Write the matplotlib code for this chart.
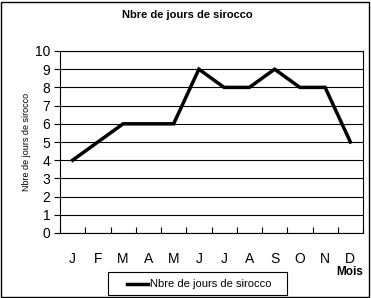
import matplotlib
matplotlib.use("Agg")
import matplotlib.pyplot as plt
from matplotlib.patches import Rectangle

plt.rcParams['font.family'] = ['Liberation Sans', 'DejaVu Sans']

months = ['J', 'F', 'M', 'A', 'M', 'J', 'J', 'A', 'S', 'O', 'N', 'D']
sirocco_days = [4, 5, 6, 6, 6, 9, 8, 8, 9, 8, 8, 5]
series_name = 'Nbre de jours de sirocco'

W, H = 371, 298
fig = plt.figure(figsize=(W / 100, H / 100), dpi=100)

# plot area in pixel coords: x 60..363, y 51..233
ax = fig.add_axes([60 / W, 1 - 233 / H, 303 / W, 182 / H])

x = list(range(len(months)))
ax.plot(x, sirocco_days, color='black', linewidth=2.5, solid_joinstyle='miter',
        label=series_name)

ax.set_xlim(-0.5, len(months) - 0.5)
ax.set_ylim(0, 10)
ax.set_yticks(range(0, 11))
ax.set_xticks(x)
ax.set_xticklabels(months)
ax.set_xticks([i - 0.5 for i in range(len(months) + 1)], minor=True)
ax.tick_params(axis='x', which='major', length=0, pad=14, labelsize=10)
ax.tick_params(axis='x', which='minor', length=4, width=0.8, direction='in')
ax.tick_params(axis='y', length=4, width=0.8, direction='out', pad=3, labelsize=10)
ax.grid(axis='y', color='black', linewidth=0.8)
ax.set_axisbelow(True)
for s in ax.spines.values():
    s.set_linewidth(0.8)

ax.set_ylabel(series_name, fontsize=6.5, labelpad=3)

fig.text(187 / W, 1 - 15 / H, series_name, ha='center', va='center',
         fontsize=8, fontweight='bold')
fig.text(350 / W, 1 - 272 / H, 'Mois', ha='center', va='center',
         fontsize=8.5, fontweight='bold')

# legend box
fig.patches.append(Rectangle((108 / W, 1 - 295 / H), 179 / W, 23 / H,
                             transform=fig.transFigure, fill=False,
                             edgecolor='black', linewidth=0.8))
fig.lines.append(plt.Line2D([127 / W, 148 / W], [1 - 284 / H, 1 - 284 / H],
                            transform=fig.transFigure, color='black', linewidth=2.5))
fig.text(150 / W, 1 - 284 / H, series_name, ha='left', va='center', fontsize=8)

# outer frame
fig.patches.append(Rectangle((1 / W, 1 / H), 368 / W, 295 / H,
                             transform=fig.transFigure, fill=False,
                             edgecolor='black', linewidth=1))

fig.savefig('out.png', dpi=100)
